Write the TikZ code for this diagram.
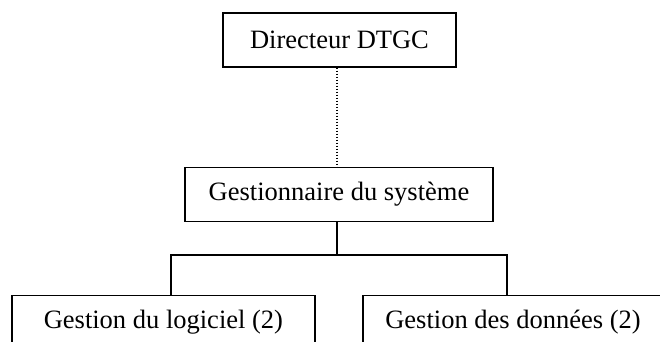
\documentclass[tikz,border=0pt]{standalone}
\usepackage{fontspec}
\setmainfont{Liberation Serif}
\begin{document}
\begin{tikzpicture}[x=1pt,y=1pt,
  box/.style={draw, line width=1.4pt, inner sep=0pt, minimum height=54pt,
    font=\fontsize{26.5}{30}\selectfont, anchor=center},
  link/.style={line width=1.4pt},
  dotlink/.style={line width=1.2pt, dash pattern=on 1.5pt off 1.5pt}]
\useasboundingbox (0,0) rectangle (660,342);
\clip (0,0) rectangle (660,342);
\node[box, minimum width=233pt] (dir) at (339.5,302) {Directeur DTGC};
\node[box, minimum width=308pt] (gest) at (339,147.5) {Gestionnaire du système};
\node[box, minimum width=303pt] (log) at (163.4,19.5) {Gestion du logiciel (2)};
\node[box, minimum width=300pt] (don) at (513,19.5) {Gestion des données (2)};
\coordinate (spine) at (337,0);
\coordinate (junc) at (337,87);
\coordinate (lj) at (171,87);
\coordinate (rj) at (507,87);
\draw[dotlink] (dir.south -| spine) -- (gest.north -| spine);
\draw[link] (gest.south -| spine) -- (junc);
\draw[link] (log.north -| lj) -- (lj) -- (rj) -- (don.north -| rj);
\end{tikzpicture}
\end{document}
